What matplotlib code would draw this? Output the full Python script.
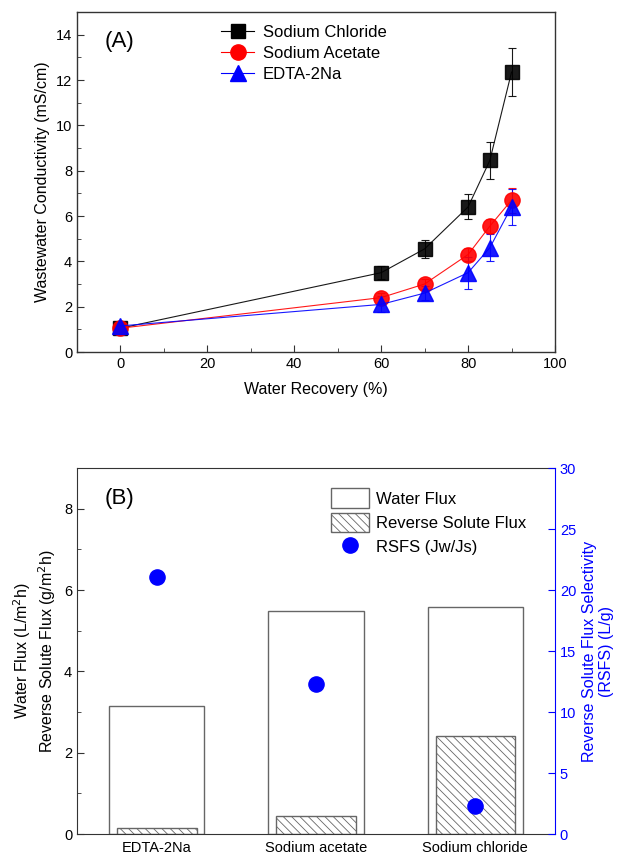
import matplotlib
matplotlib.use("Agg")
import matplotlib.pyplot as plt
from matplotlib.patches import Patch
from matplotlib.lines import Line2D
from matplotlib.ticker import MultipleLocator

plt.rcParams['font.family'] = ['Liberation Sans', 'DejaVu Sans']
plt.rcParams['hatch.color'] = '#888888'
plt.rcParams['hatch.linewidth'] = 0.6

# Panel A data
recovery = [0, 60, 70, 80, 85, 90]
nacl = [1.05, 3.5, 4.55, 6.4, 8.45, 12.35]
nacl_err = [0.1, 0.3, 0.4, 0.55, 0.8, 1.05]
acetate = [1.05, 2.4, 3.0, 4.3, 5.55, 6.7]
acetate_err = [0.1, 0.2, 0.2, 0.3, 0.3, 0.55]
edta = [1.15, 2.1, 2.6, 3.5, 4.6, 6.4]
edta_err = [0.1, 0.35, 0.3, 0.7, 0.6, 0.8]

# Panel B data
categories = ['EDTA-2Na', 'Sodium acetate', 'Sodium chloride']
water_flux = [3.15, 5.48, 5.58]
reverse_flux = [0.15, 0.45, 2.4]
rsfs = [21.1, 12.3, 2.3]

fig = plt.figure(figsize=(6.31, 8.55), dpi=100)
W, H = 631, 855

axA = fig.add_axes([77 / W, 1 - 352 / H, (555 - 77) / W, (352 - 12) / H])
series = [
    (nacl, nacl_err, 'black', 's', 'Sodium Chloride', 10),
    (acetate, acetate_err, 'red', 'o', 'Sodium Acetate', 11),
    (edta, edta_err, 'blue', '^', 'EDTA-2Na', 11),
]
for y, e, c, m, lab, ms in series:
    axA.errorbar(recovery, y, yerr=e, color=c, marker=m, markersize=ms, lw=0.8,
                 elinewidth=0.8, capsize=3, capthick=0.8, ecolor=c, label=lab, alpha=0.9)
axA.set_xlim(-10, 100)
axA.set_ylim(0, 15)
axA.xaxis.set_major_locator(MultipleLocator(20))
axA.xaxis.set_minor_locator(MultipleLocator(10))
axA.yaxis.set_major_locator(MultipleLocator(2))
axA.yaxis.set_minor_locator(MultipleLocator(1))
axA.tick_params(which='both', direction='in', labelsize=10.5, color='#333333')
axA.tick_params(which='major', length=5)
axA.tick_params(which='minor', length=3)
axA.set_xlabel('Water Recovery (%)', fontsize=11.5, labelpad=8)
axA.set_ylabel('Wastewater Conductivity (mS/cm)', fontsize=11.5)
for s in axA.spines.values():
    s.set_color('#333333')
    s.set_linewidth(1.0)
axA.text(0.057, 0.945, '(A)', transform=axA.transAxes, fontsize=16, va='top')
handlesA = [Line2D([0], [0], color=c, marker=m, markersize=ms, lw=0.8) for _, _, c, m, _, ms in series]
axA.legend(handlesA, [s[4] for s in series], loc='upper left', bbox_to_anchor=(0.27, 1.005),
           frameon=False, fontsize=12, handlelength=2.0, labelspacing=0.35, handletextpad=0.5)

# Panel B
axB = fig.add_axes([77 / W, 1 - 834 / H, (555 - 77) / W, (834 - 468) / H])
xs = list(range(len(categories)))
axB.bar(xs, water_flux, width=0.6, facecolor='white', edgecolor='#666666', linewidth=1.0)
axB.bar(xs, reverse_flux, width=0.5, facecolor='white', edgecolor='#666666', linewidth=1.0,
        hatch='\\\\\\\\')
axB.set_xlim(-0.5, 2.5)
axB.set_ylim(0, 9)
axB.set_xticks(xs)
axB.set_xticklabels(categories)
axB.yaxis.set_major_locator(MultipleLocator(2))
axB.yaxis.set_minor_locator(MultipleLocator(1))
axB.tick_params(axis='x', length=0, labelsize=10.5, pad=5)
axB.tick_params(axis='y', which='both', direction='in', labelsize=10.5, color='#333333')
axB.tick_params(axis='y', which='major', length=5)
axB.tick_params(axis='y', which='minor', length=3)
axB.set_ylabel('Water Flux (L/m$^2$h)\nReverse Solute Flux (g/m$^2$h)', fontsize=11.5)
for s in axB.spines.values():
    s.set_color('#333333')
axB.spines['right'].set_visible(False)

axR = axB.twinx()
axR.scatter(xs, rsfs, s=120, color='blue', zorder=5)
axR.set_ylim(0, 30)
axR.yaxis.set_major_locator(MultipleLocator(5))
axR.tick_params(axis='y', direction='in', length=5, colors='blue', labelsize=10.5)
axR.spines['right'].set_color('blue')
axR.spines['top'].set_visible(False)
axR.spines['left'].set_visible(False)
axR.spines['bottom'].set_visible(False)
axR.set_ylabel('Reverse Solute Flux Selectivity\n(RSFS) (L/g)', color='blue', fontsize=11.5)
axB.text(0.057, 0.945, '(B)', transform=axB.transAxes, fontsize=16, va='top')

handlesB = [Patch(facecolor='white', edgecolor='#666666'),
            Patch(facecolor='white', edgecolor='#666666', hatch='\\\\\\\\'),
            Line2D([0], [0], color='blue', marker='o', lw=0, markersize=11)]
axR.legend(handlesB, ['Water Flux', 'Reverse Solute Flux', 'RSFS (Jw/Js)'], loc='upper left',
           bbox_to_anchor=(0.5, 0.985), frameon=False, fontsize=12,
           handlelength=2.3, handleheight=1.4, labelspacing=0.3, handletextpad=0.4)

fig.savefig('out.png', dpi=100)
